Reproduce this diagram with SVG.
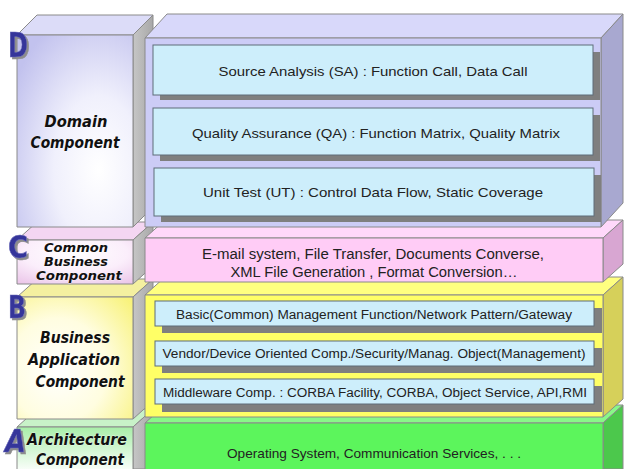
<svg xmlns="http://www.w3.org/2000/svg" width="624" height="469" viewBox="0 0 624 469">
  <defs>
    <radialGradient id="gD" cx="0.7" cy="0.7" r="0.85">
      <stop offset="0" stop-color="#ffffff"/>
      <stop offset="0.45" stop-color="#f0f0fc"/>
      <stop offset="1" stop-color="#c2c2ee"/>
    </radialGradient>
    <radialGradient id="gC" cx="0.5" cy="0.3" r="0.9">
      <stop offset="0" stop-color="#ffffff"/>
      <stop offset="0.5" stop-color="#fbeefb"/>
      <stop offset="1" stop-color="#e8bfe6"/>
    </radialGradient>
    <radialGradient id="gB" cx="0.35" cy="0.6" r="0.85">
      <stop offset="0" stop-color="#ffffff"/>
      <stop offset="0.5" stop-color="#fffde0"/>
      <stop offset="1" stop-color="#f8f27a"/>
    </radialGradient>
    <linearGradient id="gA" x1="0" y1="0" x2="0" y2="1">
      <stop offset="0" stop-color="#a8eea8"/>
      <stop offset="1" stop-color="#ffffff"/>
    </linearGradient>
    <linearGradient id="gSide" x1="0" y1="0" x2="1" y2="0">
      <stop offset="0" stop-color="#c6c6c6"/>
      <stop offset="1" stop-color="#a8a8a8"/>
    </linearGradient>
    <filter id="letterShadow" x="-30%" y="-30%" width="170%" height="170%">
      <feDropShadow dx="2" dy="2" stdDeviation="0.6" flood-color="#8c8c8c" flood-opacity="1"/>
    </filter>
  </defs>
  <style>
    .edge { stroke: #8a8a8a; stroke-width: 1; stroke-linejoin: round; }
    .item { fill: #cdeefb; stroke: #5e6d78; stroke-width: 1; }
    .shadow { fill: #7f7f7f; }
    .t { font-family: "Liberation Sans", Arial, sans-serif; fill: #222; text-anchor: middle; }
    .lbl { font-family: "DejaVu Sans", "Liberation Sans", sans-serif; font-style: italic; font-weight: bold; fill: #111; text-anchor: middle; font-size: 15px; stroke: #ffffff; stroke-width: 0.4; paint-order: stroke; }
    .lbl-s { font-size: 12.5px; }
    .ltr { font-family: "DejaVu Sans", "Liberation Sans", sans-serif; font-weight: bold; fill: #34349a; stroke: #6a6ab8; stroke-width: 0.6; filter: url(#letterShadow); }
  </style>

  <rect width="624" height="469" fill="#ffffff"/>

  <!-- ===== Layer A : Architecture ===== -->
  <g id="layer-a-label">
    <polygon class="edge" points="17,427 37,409 153,409 133,427" fill="#c8f2c8"/>
    <polygon class="edge" points="133,427 153,409 153,469 133,469" fill="url(#gSide)"/>
    <rect class="edge" x="17" y="427" width="116" height="46" fill="url(#gA)"/>
    <text class="lbl" x="77" y="445" textLength="100" lengthAdjust="spacingAndGlyphs">Architecture</text>
    <text class="lbl" x="80" y="465" textLength="88" lengthAdjust="spacingAndGlyphs">Component</text>
  </g>
  <g id="layer-a">
    <polygon class="edge" points="145,423 165,405 623,405 603,423" fill="#88f888"/>
    <polygon class="edge" points="603,423 623,405 623,469 603,469" fill="#4cc84c"/>
    <rect class="edge" x="145" y="423" width="458" height="50" fill="#5cf55c"/>
    <text class="t" x="374" y="458" font-size="13" textLength="294" lengthAdjust="spacingAndGlyphs">Operating System, Communication Services, . . .</text>
  </g>

  <!-- ===== Layer B : Business Application ===== -->
  <g id="layer-b-label">
    <polygon class="edge" points="17,297 37,279 153,279 133,297" fill="#f4f0a0"/>
    <polygon class="edge" points="133,297 153,279 153,401 133,419" fill="url(#gSide)"/>
    <rect class="edge" x="17" y="297" width="116" height="122" fill="url(#gB)"/>
    <text class="lbl" x="75" y="343" textLength="70" lengthAdjust="spacingAndGlyphs">Business</text>
    <text class="lbl" x="74" y="365" textLength="92" lengthAdjust="spacingAndGlyphs">Application</text>
    <text class="lbl" x="80" y="387" textLength="89" lengthAdjust="spacingAndGlyphs">Component</text>
  </g>
  <g id="layer-b">
    <polygon class="edge" points="145,295 165,277 623,277 603,295" fill="#ffff80"/>
    <polygon class="edge" points="603,295 623,277 623,399 603,417" fill="#d6d05a"/>
    <rect class="edge" x="145" y="295" width="458" height="122" fill="#ffff66"/>
    <g id="b-basic">
      <rect class="shadow" x="162" y="308" width="440" height="25"/>
      <rect class="item" x="155" y="301" width="439" height="25"/>
      <text class="t" x="374" y="319" font-size="12.5" textLength="396" lengthAdjust="spacingAndGlyphs">Basic(Common) Management Function/Network Pattern/Gateway</text>
    </g>
    <g id="b-vendor">
      <rect class="shadow" x="162" y="348" width="440" height="25"/>
      <rect class="item" x="155" y="341" width="439" height="25"/>
      <text class="t" x="374" y="358" font-size="12.5" textLength="423" lengthAdjust="spacingAndGlyphs">Vendor/Device Oriented Comp./Security/Manag. Object(Management)</text>
    </g>
    <g id="b-middleware">
      <rect class="shadow" x="162" y="386" width="440" height="26"/>
      <rect class="item" x="155" y="379" width="439" height="25"/>
      <text class="t" x="375" y="397" font-size="12.5" textLength="424" lengthAdjust="spacingAndGlyphs">Middleware Comp. : CORBA Facility, CORBA, Object Service, API,RMI</text>
    </g>
  </g>

  <!-- ===== Layer C : Common Business ===== -->
  <g id="layer-c-label">
    <polygon class="edge" points="17,240 37,222 153,222 133,240" fill="#f4d6f2"/>
    <polygon class="edge" points="133,240 153,222 153,266 133,284" fill="url(#gSide)"/>
    <rect class="edge" x="17" y="240" width="116" height="44" fill="url(#gC)"/>
    <text class="lbl lbl-s" x="76" y="252" textLength="64" lengthAdjust="spacingAndGlyphs">Common</text>
    <text class="lbl lbl-s" x="76" y="266" textLength="64" lengthAdjust="spacingAndGlyphs">Business</text>
    <text class="lbl lbl-s" x="79" y="280" textLength="86" lengthAdjust="spacingAndGlyphs">Component</text>
  </g>
  <g id="layer-c">
    <polygon class="edge" points="145,238 165,220 623,220 603,238" fill="#ffd8fa"/>
    <polygon class="edge" points="603,238 623,220 623,264 603,282" fill="#d8a6d2"/>
    <rect class="edge" x="145" y="238" width="458" height="44" fill="#ffccf6"/>
    <text class="t" x="373" y="259" font-size="14" textLength="342" lengthAdjust="spacingAndGlyphs">E-mail system, File Transfer, Documents Converse,</text>
    <text class="t" x="374" y="277" font-size="14" textLength="287" lengthAdjust="spacingAndGlyphs">XML File Generation , Format Conversion…</text>
  </g>

  <!-- ===== Layer D : Domain ===== -->
  <g id="layer-d-label">
    <polygon class="edge" points="17,35 37,15 153,15 133,35" fill="#dcdcf8"/>
    <polygon class="edge" points="133,35 153,15 153,207 133,227" fill="url(#gSide)"/>
    <rect class="edge" x="17" y="35" width="116" height="192" fill="url(#gD)"/>
    <text class="lbl" x="76" y="127" textLength="63" lengthAdjust="spacingAndGlyphs">Domain</text>
    <text class="lbl" x="75" y="148" textLength="89" lengthAdjust="spacingAndGlyphs">Component</text>
  </g>
  <g id="layer-d">
    <polygon class="edge" points="145,38 167,14 623,14 601,38" fill="#d8d8fa"/>
    <polygon class="edge" points="601,38 623,14 623,203 601,227" fill="#a8a8d0"/>
    <rect class="edge" x="145" y="38" width="456" height="189" fill="#ccccf6"/>
    <g id="d-sa">
      <rect class="shadow" x="160" y="52" width="440" height="48"/>
      <rect class="item" x="153" y="45" width="440" height="50"/>
      <text class="t" x="373" y="76" font-size="13.5" textLength="309" lengthAdjust="spacingAndGlyphs">Source Analysis (SA) : Function Call, Data Call</text>
    </g>
    <g id="d-qa">
      <rect class="shadow" x="160" y="115" width="440" height="46"/>
      <rect class="item" x="153" y="108" width="440" height="47"/>
      <text class="t" x="376" y="138" font-size="13.5" textLength="368" lengthAdjust="spacingAndGlyphs">Quality Assurance (QA) : Function Matrix, Quality Matrix</text>
    </g>
    <g id="d-ut">
      <rect class="shadow" x="161" y="175" width="440" height="47"/>
      <rect class="item" x="154" y="168" width="440" height="48"/>
      <text class="t" x="373" y="197" font-size="13.5" textLength="340" lengthAdjust="spacingAndGlyphs">Unit Test (UT) : Control Data Flow, Static Coverage</text>
    </g>
  </g>

  <!-- level letters -->
  <g id="letters">
    <text class="ltr" x="8" y="57" font-size="34" textLength="20" lengthAdjust="spacingAndGlyphs">D</text>
    <text class="ltr" x="8" y="258" font-size="32" textLength="20" lengthAdjust="spacingAndGlyphs">C</text>
    <text class="ltr" x="8" y="318" font-size="32" textLength="18" lengthAdjust="spacingAndGlyphs">B</text>
    <text class="ltr" x="5" y="452" font-size="32" font-style="italic" textLength="21" lengthAdjust="spacingAndGlyphs">A</text>
  </g>
</svg>
